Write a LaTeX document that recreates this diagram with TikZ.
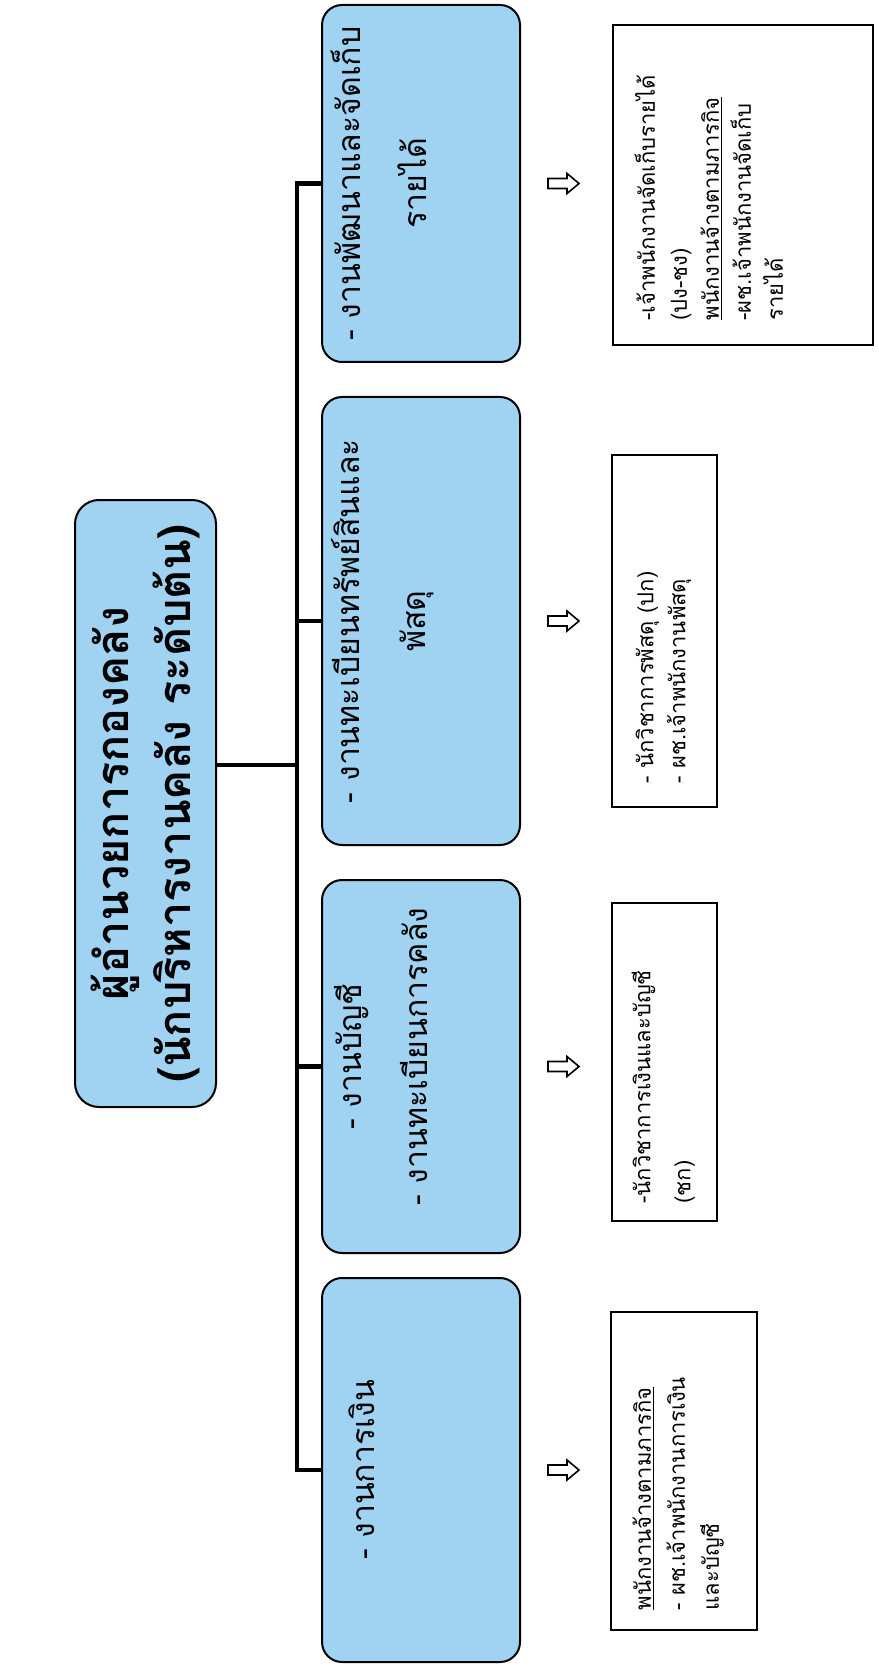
\documentclass[tikz,border=0pt]{standalone}
\usepackage{fontspec}
\setmainfont[Script=Thai]{Loma}

\definecolor{chartblue}{RGB}{160,210,241}

\tikzset{
  headbox/.style={draw, line width=1pt, fill=chartblue, rounded corners=12pt, rotate=90, minimum width=303.5pt, minimum height=70.5pt, align=center, font=\bfseries\fontsize{22.5}{31}\selectfont},
  unitbox/.style={draw, line width=1pt, fill=chartblue, rounded corners=10pt, rotate=90, minimum height=99pt},
  unittext/.style={rotate=90, align=center, inner sep=0pt, font=\fontsize{16}{33}\selectfont},
  staffbox/.style={draw, line width=0.8pt, rotate=90},
  stafftext/.style={rotate=90, align=left, anchor=north west, inner sep=0pt, font=\fontsize{11}{16}\selectfont},
  busline/.style={line width=2.2pt},
  hollowarrow/.style={line width=0.8pt, line join=miter}
}

\begin{document}
\begin{tikzpicture}[x=0.5pt,y=-0.5pt]

\useasboundingbox[fill=white] ( 0, 0 ) rectangle ( 878, 1668 );

%% Head of division
\node[headbox] (top) at ( 145.5, 803.5 ) {ผู้อำนวยการกองคลัง\\(นักบริหารงานคลัง ระดับต้น)};

%% Units
\node[unitbox, minimum width=178.5pt] (c1) at ( 421, 183.5 ) {};
\node[unitbox, minimum width=224pt] (c2) at ( 421, 621 ) {};
\node[unitbox, minimum width=186.5pt] (c3) at ( 421, 1066.5 ) {};
\node[unitbox, minimum width=192pt] (c4) at ( 421, 1470 ) {};

\node[unittext] (c1t) at ([shift={( 58, 0 )}]c1.north) {- งานพัฒนาและจัดเก็บ\\รายได้};
\node[unittext] (c2t) at ([shift={( 62, 0 )}]c2.north) {- งานทะเบียนทรัพย์สินและ\\พัสดุ};
\node[unittext] (c3t) at ([shift={( 60, -10 )}]c3.north) {- งานบัญชี\\- งานทะเบียนการคลัง};
\node[unittext] (c4t) at ([shift={( 41, 0 )}]c4.north) {- งานการเงิน};

%% Bus
\coordinate (j0) at ( 297, 765 );
\draw[busline] (top.south |- j0) -- (j0);
\draw[busline] (c1.north) -- (c1.north -| j0) -- (c4.north -| j0) -- (c4.north);
\draw[busline] (c2.north -| j0) -- (c2.north);
\draw[busline] (c3.north -| j0) -- (c3.north);

%% Arrows
\draw[hollowarrow] ([shift={( 27, -5 )}]c1.south) -- ++( 19, 0 ) -- ++( 0, -5 ) -- ++( 12, 10 ) -- ++( -12, 10 ) -- ++( 0, -5 ) -- ++( -19, 0 ) -- cycle;
\draw[hollowarrow] ([shift={( 27, -5 )}]c2.south) -- ++( 19, 0 ) -- ++( 0, -5 ) -- ++( 12, 10 ) -- ++( -12, 10 ) -- ++( 0, -5 ) -- ++( -19, 0 ) -- cycle;
\draw[hollowarrow] ([shift={( 27, -5 )}]c3.south) -- ++( 19, 0 ) -- ++( 0, -5 ) -- ++( 12, 10 ) -- ++( -12, 10 ) -- ++( 0, -5 ) -- ++( -19, 0 ) -- cycle;
\draw[hollowarrow] ([shift={( 27, -5 )}]c4.south) -- ++( 19, 0 ) -- ++( 0, -5 ) -- ++( 12, 10 ) -- ++( -12, 10 ) -- ++( 0, -5 ) -- ++( -19, 0 ) -- cycle;

%% Staff
\node[staffbox, minimum width=160pt, minimum height=130pt] (b1) at ( 743, 185 ) {};
\node[staffbox, minimum width=176pt, minimum height=52.5pt] (b2) at ( 664.5, 631 ) {};
\node[staffbox, minimum width=159pt, minimum height=52.5pt] (b3) at ( 664.5, 1062 ) {};
\node[staffbox, minimum width=159pt, minimum height=73pt] (b4) at ( 684, 1471 ) {};

\node[stafftext] (b1t) at ([shift={( 22, -25 )}]b1.north west) {-เจ้าพนักงานจัดเก็บรายได้\\(ปง-ชง)\\\underline{พนักงานจ้างตามภารกิจ}\\-ผช.เจ้าพนักงานจัดเก็บ\\รายได้};
\node[stafftext] (b2t) at ([shift={( 24, -24 )}]b2.north west) {- นักวิชาการพัสดุ (ปก)\\- ผช.เจ้าพนักงานพัสดุ};
\node[stafftext, font=\fontsize{11}{20}\selectfont] (b3t) at ([shift={( 20, -18 )}]b3.north west) {-นักวิชาการเงินและบัญชี\\(ชก)};
\node[stafftext, font=\fontsize{11}{17}\selectfont] (b4t) at ([shift={( 22, -20 )}]b4.north west) {\underline{พนักงานจ้างตามภารกิจ}\\- ผช.เจ้าพนักงานการเงิน\\และบัญชี};

\end{tikzpicture}
\end{document}
